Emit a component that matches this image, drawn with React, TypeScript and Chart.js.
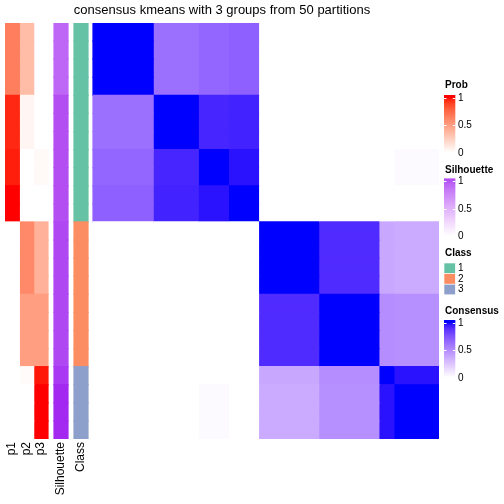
import React, { useEffect, useRef } from "react";
import { Chart, registerables } from "chart.js";

Chart.register(...registerables);

// ---------------- data ----------------
const blockSizes = [4, 3, 2, 2, 4, 4, 1, 3];
const probP1 = [0.65, 0.95, 0.97, 1, 0, 0, 0, 0];
const probP2 = [0.35, 0.05, 0, 0, 0.6, 0.5, 0.02, 0];
const probP3 = [0, 0, 0.03, 0, 0.4, 0.5, 0.98, 1];
const silhouette = [0.75, 0.85, 0.85, 0.85, 0.88, 0.88, 0.93, 0.98];
const classOf = [1, 1, 1, 1, 2, 2, 3, 3];
const consensus = [
  [1, 0.62, 0.66, 0.69, 0, 0, 0, 0],
  [0.62, 1, 0.92, 0.93, 0, 0, 0, 0],
  [0.66, 0.92, 1, 0.97, 0, 0, 0, 0.02],
  [0.69, 0.93, 0.97, 1, 0, 0, 0, 0],
  [0, 0, 0, 0, 1, 0.9, 0.38, 0.36],
  [0, 0, 0, 0, 0.9, 1, 0.49, 0.48],
  [0, 0, 0, 0, 0.38, 0.49, 1, 0.97],
  [0, 0, 0.02, 0, 0.36, 0.48, 0.97, 1],
];
const classLevels = ["1", "2", "3"];
const classColors = ["#66C2A5", "#FC8D62", "#8DA0CB"];
const legendBreaks = [0, 0.5, 1];
const legendBreakLabels = ["0", "0.5", "1"];
const chartTitle = "consensus kmeans with 3 groups from 50 partitions";

// ---------------- layout ----------------
const FONT = "'Liberation Sans', Arial, Helvetica, sans-serif";
const AREA = { left: 5, top: 23, right: 439, bottom: 439 };
const HEAT_W = 346;
// annotation segments (px widths), null name = gap
const segments: { name: string | null; w: number }[] = [
  { name: "p1", w: 14.33 },
  { name: "p2", w: 14.33 },
  { name: "p3", w: 14.34 },
  { name: null, w: 6 },
  { name: "Silhouette", w: 14 },
  { name: null, w: 6 },
  { name: "Class", w: 14 },
  { name: null, w: 5 },
];

// ---------------- colour helpers (LAB interpolation) ----------------
type RGB = [number, number, number];
function hexToRgb(h: string): RGB {
  const n = parseInt(h.slice(1), 16);
  return [(n >> 16) & 255, (n >> 8) & 255, n & 255];
}
function toLin(c: number) {
  c /= 255;
  return c <= 0.04045 ? c / 12.92 : Math.pow((c + 0.055) / 1.055, 2.4);
}
function fromLin(c: number) {
  c = Math.max(0, Math.min(1, c));
  return 255 * (c <= 0.0031308 ? 12.92 * c : 1.055 * Math.pow(c, 1 / 2.4) - 0.055);
}
const XN = 0.95047, YN = 1, ZN = 1.08883;
function f(t: number) {
  return t > 0.008856 ? Math.cbrt(t) : 7.787 * t + 16 / 116;
}
function finv(t: number) {
  return t > 0.206893 ? t * t * t : (t - 16 / 116) / 7.787;
}
function rgbToLab(c: RGB): RGB {
  const R = toLin(c[0]), G = toLin(c[1]), B = toLin(c[2]);
  const X = 0.4124 * R + 0.3576 * G + 0.1805 * B;
  const Y = 0.2126 * R + 0.7152 * G + 0.0722 * B;
  const Z = 0.0193 * R + 0.1192 * G + 0.9505 * B;
  const fx = f(X / XN), fy = f(Y / YN), fz = f(Z / ZN);
  return [116 * fy - 16, 500 * (fx - fy), 200 * (fy - fz)];
}
function labToRgb(l: RGB): RGB {
  const fy = (l[0] + 16) / 116;
  const fx = fy + l[1] / 500;
  const fz = fy - l[2] / 200;
  const X = XN * finv(fx), Y = YN * finv(fy), Z = ZN * finv(fz);
  const R = 3.2406 * X - 1.5372 * Y - 0.4986 * Z;
  const G = -0.9689 * X + 1.8758 * Y + 0.0415 * Z;
  const B = 0.0557 * X - 0.204 * Y + 1.057 * Z;
  return [fromLin(R), fromLin(G), fromLin(B)];
}
function ramp(lo: string, hi: string) {
  const a = rgbToLab(hexToRgb(lo));
  const b = rgbToLab(hexToRgb(hi));
  return (v: number) => {
    const t = Math.max(0, Math.min(1, v));
    const lab: RGB = [a[0] + (b[0] - a[0]) * t, a[1] + (b[1] - a[1]) * t, a[2] + (b[2] - a[2]) * t];
    const c = labToRgb(lab);
    return `rgb(${Math.round(c[0])},${Math.round(c[1])},${Math.round(c[2])})`;
  };
}
const probColor = ramp("#FFFFFF", "#FF0000");
const silColor = ramp("#FFFFFF", "#A020F0");
const consColor = ramp("#FFFFFF", "#0000FF");

// ---------------- component ----------------
export default function App() {
  const ref = useRef<HTMLCanvasElement | null>(null);

  useEffect(() => {
    if (!ref.current) return;
    const rowBlock: number[] = blockSizes.flatMap((s, i) => Array(s).fill(i));
    const nRows = rowBlock.length;
    const unit = HEAT_W / nRows;
    const labels = rowBlock.map((_, i) => String(i + 1));

    const annColors: Record<string, (b: number) => string> = {
      p1: (b) => probColor(probP1[b]),
      p2: (b) => probColor(probP2[b]),
      p3: (b) => probColor(probP3[b]),
      Silhouette: (b) => silColor(silhouette[b]),
      Class: (b) => classColors[classOf[b] - 1],
    };

    const datasets: any[] = [];
    segments.forEach((s) => {
      datasets.push({
        label: s.name || "gap",
        data: rowBlock.map(() => s.w),
        backgroundColor: rowBlock.map((b) => (s.name ? annColors[s.name](b) : "rgba(0,0,0,0)")),
        inflateAmount: s.name ? 0.6 : 0,
      });
    });
    blockSizes.forEach((size, j) => {
      datasets.push({
        label: "col" + j,
        data: rowBlock.map(() => size * unit),
        backgroundColor: rowBlock.map((b) => consColor(consensus[b][j])),
        inflateAmount: 0.6,
      });
    });
    datasets.forEach((d) => {
      d.borderWidth = 0;
      d.barPercentage = 1;
      d.categoryPercentage = 1;
    });

    const totalW = segments.reduce((a, s) => a + s.w, 0) + HEAT_W;

    const overlay = {
      id: "overlay",
      afterDraw(chart: any) {
        const ctx: CanvasRenderingContext2D = chart.ctx;
        const xs = chart.scales.x;
        ctx.save();
        // title
        ctx.fillStyle = "#000";
        ctx.font = `13px ${FONT}`;
        ctx.textAlign = "center";
        ctx.textBaseline = "middle";
        ctx.fillText(chartTitle, (chart.chartArea.left + chart.chartArea.right) / 2, 10);

        // annotation names, rotated
        ctx.font = `12px ${FONT}`;
        let acc = 0;
        segments.forEach((s) => {
          if (s.name) {
            const cx = xs.getPixelForValue(acc + s.w / 2);
            ctx.save();
            ctx.translate(cx, chart.chartArea.bottom + 3);
            ctx.rotate(-Math.PI / 2);
            ctx.textAlign = "right";
            ctx.textBaseline = "middle";
            ctx.fillText(s.name, 0, 0);
            ctx.restore();
          }
          acc += s.w;
        });

        // legends
        const LX = 444, LW = 11.3, OFF = 2.5, SPAN = 55;
        const contLegend = (name: string, titleY: number, top: number, fn: (v: number) => string) => {
          ctx.fillStyle = "#000";
          ctx.font = `bold 10px ${FONT}`;
          ctx.textAlign = "left";
          ctx.textBaseline = "middle";
          ctx.fillText(name, LX + 1, titleY);
          const H = SPAN + 2 * OFF;
          for (let y = 0; y < H; y++) {
            const v = 1 - (y + 0.5 - OFF) / SPAN;
            ctx.fillStyle = fn(v);
            ctx.fillRect(LX, top + y, LW, 1.05);
          }
          ctx.strokeStyle = "#FFFFFF";
          ctx.lineWidth = 1;
          ctx.font = `10px ${FONT}`;
          legendBreaks.forEach((br, i) => {
            const yy = Math.round(top + OFF + (1 - br) * SPAN) + 0.5;
            ctx.beginPath();
            ctx.moveTo(LX, yy);
            ctx.lineTo(LX + 2.5, yy);
            ctx.moveTo(LX + LW - 2.5, yy);
            ctx.lineTo(LX + LW, yy);
            ctx.stroke();
            ctx.fillStyle = "#000";
            ctx.fillText(legendBreakLabels[i], 458, yy);
          });
        };
        contLegend("Prob", 85, 95, probColor);
        contLegend("Silhouette", 170, 178.5, silColor);
        contLegend("Consensus", 311, 320, consColor);

        // class legend
        ctx.fillStyle = "#000";
        ctx.font = `bold 10px ${FONT}`;
        ctx.textAlign = "left";
        ctx.textBaseline = "middle";
        ctx.fillText("Class", LX + 1, 253);
        const BH = 10.6;
        classLevels.forEach((lv, i) => {
          const y0 = 263 + i * BH;
          ctx.fillStyle = classColors[i];
          ctx.fillRect(LX, y0, LW, BH);
          ctx.strokeStyle = "#FFFFFF";
          ctx.lineWidth = 0.6;
          ctx.strokeRect(LX, y0, LW, BH);
          ctx.fillStyle = "#000";
          ctx.font = `10px ${FONT}`;
          ctx.fillText(lv, 458, y0 + BH / 2);
        });
        ctx.restore();
      },
    };

    const chart = new Chart(ref.current, {
      type: "bar",
      data: { labels, datasets },
      options: {
        indexAxis: "y",
        animation: false,
        responsive: false,
        devicePixelRatio: 1,
        layout: {
          padding: {
            left: AREA.left,
            top: AREA.top,
            right: 504 - AREA.right,
            bottom: 504 - AREA.bottom,
          },
        },
        scales: {
          x: { type: "linear", stacked: true, min: 0, max: totalW, display: false, grid: { display: false } },
          y: { type: "category", stacked: true, display: false, grid: { display: false } },
        },
        plugins: {
          legend: { display: false },
          tooltip: { enabled: false },
          title: { display: false },
        },
      },
      plugins: [overlay],
    } as any);

    return () => chart.destroy();
  }, []);

  return (
    <div style={{ position: "fixed", left: 0, top: 0, width: 504, height: 504, background: "#fff" }}>
      <canvas ref={ref} width={504} height={504} style={{ display: "block" }} />
    </div>
  );
}
